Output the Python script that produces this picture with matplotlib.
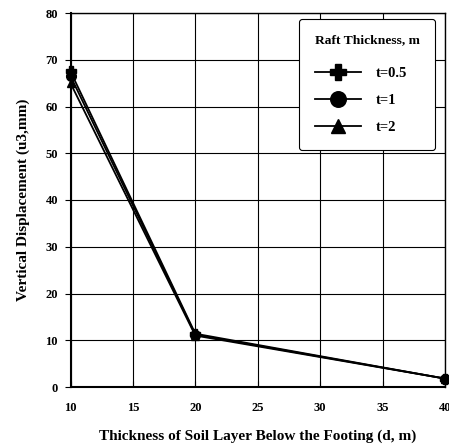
import matplotlib.pyplot as plt

# data
depth = [10, 20, 40]
u_t05 = [67.5, 11.4, 1.8]
u_t1 = [66.5, 11.2, 1.8]
u_t2 = [65.0, 11.0, 1.8]
labels = ['t=0.5', 't=1', 't=2']

plt.rcParams['font.family'] = 'Liberation Serif'
plt.rcParams['font.weight'] = 'bold'

fig = plt.figure(figsize=(4.49, 4.46), dpi=100)
ax = fig.add_axes([70.5 / 449, 1 - 387 / 446, (445 - 70.5) / 449, (387 - 13) / 446])

ax.plot(depth, u_t05, color='black', lw=1.3, marker='P', ms=7, label=labels[0], clip_on=False, zorder=3)
ax.plot(depth, u_t1, color='black', lw=1.3, marker='o', ms=7, label=labels[1], clip_on=False, zorder=3)
ax.plot(depth, u_t2, color='black', lw=1.3, marker='^', ms=6, label=labels[2], clip_on=False, zorder=3)

ax.set_xlim(10, 40)
ax.set_ylim(0, 80)
ax.set_xticks(range(10, 41, 5))
ax.set_yticks(range(0, 81, 10))
ax.grid(True, color='black', lw=0.8)
ax.tick_params(axis='x', direction='in', length=4, labelsize=9, pad=11)
ax.tick_params(axis='y', direction='out', length=4, labelsize=9, pad=5)
for s in ax.spines.values():
    s.set_linewidth(1.0)
ax.spines['left'].set_linewidth(1.5)
ax.spines['bottom'].set_linewidth(1.5)

ax.set_xlabel('Thickness of Soil Layer Below the Footing (d, m)', fontsize=11, fontweight='bold', labelpad=11)
ax.set_ylabel('Vertical Displacement (u3,mm)', fontsize=11, fontweight='bold', labelpad=11)

leg = ax.legend(title='Raft Thickness, m', loc='upper right', bbox_to_anchor=(0.973, 0.984),
                borderaxespad=0, alignment='left',
                fontsize=10.5, title_fontproperties={'weight': 'bold', 'size': 9.7},
                frameon=True, fancybox=True, framealpha=1, edgecolor='black', markerscale=1.6,
                borderpad=1.05, labelspacing=0.95, handlelength=3.2, handletextpad=1.0)
leg.get_frame().set_linewidth(0.8)
leg._legend_box.sep = 15

fig.savefig('out.png', dpi=100)
